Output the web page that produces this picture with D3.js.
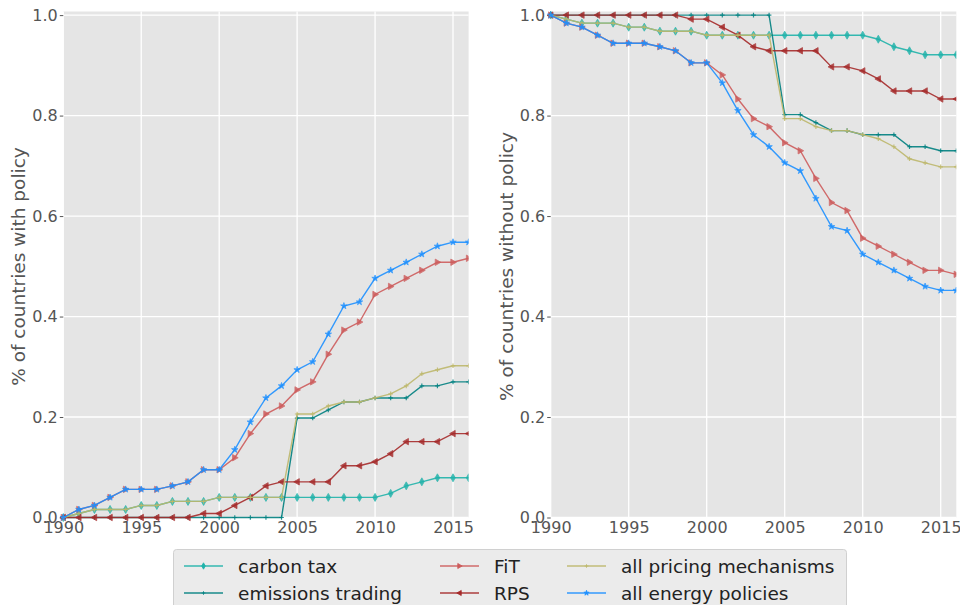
<!DOCTYPE html>
<html>
<head>
<meta charset="utf-8">
<script src="https://cdn.jsdelivr.net/npm/d3@7"></script>
<style>
  body { margin: 0; background: #fff; }
  text { font-family: "DejaVu Sans", sans-serif; }
</style>
</head>
<body>
<div id="chart"></div>
<script>
// Policy adoption, 1990-2016
var years = d3.range(1990, 2017);

// share of countries WITH policy (left panel)
var carbonTax = [0, .008, .016, .016, .016, .024, .024, .032, .032, .032, .040, .040, .040, .040, .040, .040, .040, .040, .040, .040, .040, .048, .063, .071, .079, .079, .079];
var emissionsTrading = [0, 0, 0, 0, 0, 0, 0, 0, 0, 0, 0, 0, 0, 0, 0, .198, .198, .214, .230, .230, .238, .238, .238, .262, .262, .270, .270];
var fit = [0, .016, .024, .040, .056, .056, .056, .063, .071, .095, .095, .119, .167, .206, .222, .254, .270, .325, .373, .389, .444, .460, .476, .492, .508, .508, .516];
var rps = [0, 0, 0, 0, 0, 0, 0, 0, 0, .008, .008, .024, .040, .063, .071, .071, .071, .071, .103, .103, .111, .127, .151, .151, .151, .167, .167];
var allPricing = [0, .008, .016, .016, .016, .024, .024, .032, .032, .032, .040, .040, .040, .040, .040, .206, .206, .222, .230, .230, .238, .246, .262, .286, .294, .302, .302];
var allEnergy = [0, .016, .024, .040, .056, .056, .056, .063, .071, .095, .095, .135, .190, .238, .262, .294, .310, .365, .421, .429, .476, .492, .508, .524, .540, .548, .548];

// share of countries WITHOUT policy (right panel)
var carbonTaxW = [1, .992, .984, .984, .984, .976, .976, .968, .968, .968, .960, .960, .960, .960, .960, .960, .960, .960, .960, .960, .960, .952, .937, .929, .921, .921, .921];
var emissionsTradingW = [1, 1, 1, 1, 1, 1, 1, 1, 1, 1, 1, 1, 1, 1, 1, .802, .802, .786, .770, .770, .762, .762, .762, .738, .738, .730, .730];
var fitW = [1, .984, .976, .960, .944, .944, .944, .937, .929, .905, .905, .881, .833, .794, .778, .746, .730, .675, .627, .611, .556, .540, .524, .508, .492, .492, .484];
var rpsW = [1, 1, 1, 1, 1, 1, 1, 1, 1, .992, .992, .976, .960, .937, .929, .929, .929, .929, .897, .897, .889, .873, .849, .849, .849, .833, .833];
var allPricingW = [1, .992, .984, .984, .984, .976, .976, .968, .968, .968, .960, .960, .960, .960, .960, .794, .794, .778, .770, .770, .762, .754, .738, .714, .706, .698, .698];
var allEnergyW = [1, .984, .976, .960, .944, .944, .944, .937, .929, .905, .905, .865, .810, .762, .738, .706, .690, .635, .579, .571, .524, .508, .492, .476, .460, .452, .452];

var seriesNames = ["carbon tax", "emissions trading", "FiT", "RPS", "all pricing mechanisms", "all energy policies"];
var seriesColors = ["#20b2aa", "#008080", "#cd5c5c", "#a52a2a", "#bdb76b", "#1e90ff"];
var seriesMarkers = ["thindiamond", "plus", "triright", "trileft", "plus", "star"];

var yTicks = [0, 0.2, 0.4, 0.6, 0.8, 1.0];
var xTicks = [1990, 1995, 2000, 2005, 2010, 2015];

var width = 960;
var height = 605;
var plotTop = 11.5;
var plotBottom = 517.5;

var svg = d3.select("#chart")
  .append("svg")
  .attr("width", width)
  .attr("height", height);

var yScale = d3.scaleLinear()
  .domain([0, 1.0072])
  .range([plotBottom, plotTop]);

// marker path generator
function markerPath(kind) {
  if (kind == "star") {
    return d3.symbol().type(d3.symbolStar).size(13)();
  }
  if (kind == "thindiamond") {
    return "M0,-4L2.3,0L0,4L-2.3,0Z";
  }
  if (kind == "triright") {
    return "M3.4,0L-2.2,-3.2L-2.2,3.2Z";
  }
  if (kind == "trileft") {
    return "M-3.4,0L2.2,-3.2L2.2,3.2Z";
  }
  return "M-2.3,0H2.3M0,-2.3V2.3";
}

function drawPanel(x0, x1, values, label) {
  var xScale = d3.scaleLinear()
    .domain([1990, 2016])
    .range([x0, x1]);

  var g = svg.append("g");

  // background
  g.append("rect")
    .attr("x", x0)
    .attr("y", plotTop)
    .attr("width", x1 - x0)
    .attr("height", plotBottom - plotTop)
    .attr("fill", "#e5e5e5");

  // grid
  g.selectAll(".hgrid").data(yTicks).enter()
    .append("line")
    .attr("x1", x0).attr("x2", x1)
    .attr("y1", function(d) { return yScale(d); })
    .attr("y2", function(d) { return yScale(d); })
    .attr("stroke", "#fff")
    .attr("stroke-width", 1.3);
  g.selectAll(".vgrid").data(xTicks).enter()
    .append("line")
    .attr("y1", plotTop).attr("y2", plotBottom)
    .attr("x1", function(d) { return xScale(d); })
    .attr("x2", function(d) { return xScale(d); })
    .attr("stroke", "#fff")
    .attr("stroke-width", 1.3);

  // axes
  var yAxis = d3.axisLeft(yScale)
    .tickValues(yTicks)
    .tickFormat(d3.format(".1f"))
    .tickSize(3.5)
    .tickPadding(2);
  var xAxis = d3.axisBottom(xScale)
    .tickValues(xTicks)
    .tickFormat(d3.format("d"))
    .tickSize(0)
    .tickPadding(4);

  var ya = g.append("g")
    .attr("transform", "translate(" + x0 + ",0)")
    .call(yAxis);
  var xa = g.append("g")
    .attr("transform", "translate(0," + plotBottom + ")")
    .call(xAxis);
  [ya, xa].forEach(function(a) {
    a.select(".domain").remove();
    a.selectAll(".tick line").attr("stroke", "#555");
    a.selectAll(".tick text")
      .attr("fill", "#555")
      .attr("font-size", 16)
      .attr("font-family", "DejaVu Sans");
  });

  // axis title
  g.append("text")
    .attr("transform", "translate(" + (x0 - 38) + "," + ((plotTop + plotBottom) / 2 + 2) + ")rotate(-90)")
    .attr("text-anchor", "middle")
    .attr("fill", "#555")
    .attr("font-size", 18.5)
    .text(label);

  // series
  var line = d3.line()
    .x(function(d, i) { return xScale(years[i]); })
    .y(function(d) { return yScale(d); });

  g.append("clipPath")
    .attr("id", "clip" + Math.round(x0))
    .append("rect")
    .attr("x", x0 - 6).attr("y", plotTop - 6)
    .attr("width", x1 - x0 + 6).attr("height", plotBottom - plotTop + 12);

  var sg = g.append("g").attr("clip-path", "url(#clip" + Math.round(x0) + ")");

  values.forEach(function(vals, k) {
    sg.append("path")
      .datum(vals)
      .attr("d", line)
      .attr("fill", "none")
      .attr("stroke", seriesColors[k])
      .attr("stroke-width", 1.4)
      .attr("stroke-opacity", 0.9);

    var kind = seriesMarkers[k];
    sg.selectAll(".m" + k).data(vals).enter()
      .append("path")
      .attr("transform", function(d, i) {
        return "translate(" + xScale(years[i]) + "," + yScale(d) + ")";
      })
      .attr("d", markerPath(kind))
      .attr("fill", kind == "plus" ? "none" : seriesColors[k])
      .attr("stroke", seriesColors[k])
      .attr("stroke-width", kind == "plus" ? 1.2 : 0.8)
      .attr("opacity", 0.85);
  });
}

drawPanel(63.3, 468.6,
  [carbonTax, emissionsTrading, fit, rps, allPricing, allEnergy],
  "% of countries with policy");
drawPanel(550.7, 956.3,
  [carbonTaxW, emissionsTradingW, fitW, rpsW, allPricingW, allEnergyW],
  "% of countries without policy");

////////// Legend //////////
var legend = svg.append("g");
legend.append("rect")
  .attr("x", 173.5)
  .attr("y", 549.5)
  .attr("width", 673)
  .attr("height", 70)
  .attr("rx", 3)
  .attr("fill", "#ebebeb")
  .attr("stroke", "#d0d0d0");

var colX = [184, 440, 567];
var rowY = [566, 593];

seriesNames.forEach(function(name, k) {
  var cx = colX[Math.floor(k / 2)];
  var cy = rowY[k % 2];
  legend.append("line")
    .attr("x1", cx).attr("x2", cx + 39)
    .attr("y1", cy).attr("y2", cy)
    .attr("stroke", seriesColors[k])
    .attr("stroke-width", 1.4)
    .attr("stroke-opacity", 0.9);
  legend.append("path")
    .attr("transform", "translate(" + (cx + 19.5) + "," + cy + ") scale(0.8)")
    .attr("d", markerPath(seriesMarkers[k]))
    .attr("fill", seriesMarkers[k] == "plus" ? "none" : seriesColors[k])
    .attr("stroke", seriesColors[k])
    .attr("stroke-width", 1);
  legend.append("text")
    .attr("x", cx + 54)
    .attr("y", cy + 6.5)
    .attr("fill", "#222")
    .attr("font-size", 18.5)
    .text(name);
});
</script>
</body>
</html>
